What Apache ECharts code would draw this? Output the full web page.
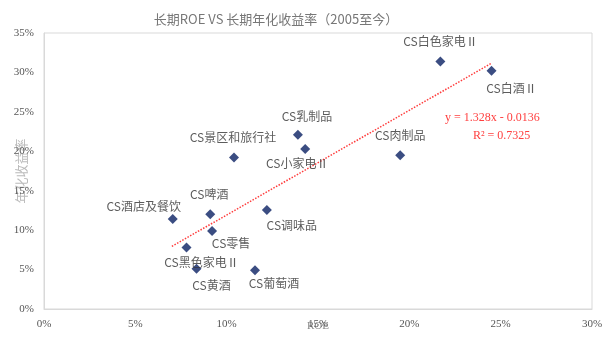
<!DOCTYPE html>
<html>
<head>
<meta charset="utf-8">
<script src="https://cdn.jsdelivr.net/npm/echarts@6/dist/echarts.min.js"></script>
<style>html,body{margin:0;padding:0;background:#fff;}#c{width:603px;height:339px;}</style>
</head>
<body>
<div id="c"></div>
<script>
// ---- data (percent) ----
var names = ['CS白色家电Ⅱ','CS白酒Ⅱ','CS肉制品','CS乳制品','CS小家电Ⅱ','CS景区和旅行社','CS啤酒','CS酒店及餐饮','CS调味品','CS零售','CS黑色家电Ⅱ','CS黄酒','CS葡萄酒'];
var roe    = [21.7, 24.5, 19.5, 13.9, 14.3, 10.4, 9.1, 7.05, 12.2, 9.2, 7.8, 8.35, 11.55];
var annRet = [31.4, 30.2, 19.5, 22.1, 20.3, 19.2, 12.0, 11.4, 12.55, 9.9, 7.8, 5.1, 4.9];
var trendX = [7.0, 24.5];
var trendY = [7.94, 31.17];
var xTicks = [0, 5, 10, 15, 20, 25, 30];
var yTicks = [0, 5, 10, 15, 20, 25, 30, 35];
var titleText = '长期ROE VS 长期年化收益率（2005至今）';
var eqText = ['y = 1.328x - 0.0136', 'R² = 0.7325'];

// ---- label layout (styling only) ----
var labelLayout = {
  'CS白色家电Ⅱ': {position:'top', offset:[0,-4]},
  'CS白酒Ⅱ': {position:'bottom', offset:[20,2]},
  'CS肉制品': {position:'top', offset:[0,-4]},
  'CS乳制品': {position:'top', offset:[9,-2]},
  'CS小家电Ⅱ': {position:'bottom', offset:[-8,-1]},
  'CS景区和旅行社': {position:'top', offset:[-1,-4]},
  'CS啤酒': {position:'top', offset:[-1,-4]},
  'CS酒店及餐饮': {position:'top', offset:[-29,3]},
  'CS调味品': {position:'bottom', offset:[25,-1]},
  'CS零售': {position:'bottom', offset:[19,-3]},
  'CS黑色家电Ⅱ': {position:'bottom', offset:[15,-1]},
  'CS黄酒': {position:'bottom', offset:[15,1]},
  'CS葡萄酒': {position:'bottom', offset:[19,-3]}
};

var pts = names.map(function(n,i){
  var l = labelLayout[n];
  return {name:n, value:[roe[i], annRet[i]], label:{position:l.position, offset:l.offset}};
});

var chart = echarts.init(document.getElementById('c'), null, {renderer:'canvas'});
var axisLabelStyle = {color:'#555', fontFamily:'Liberation Serif', fontSize:11};
chart.setOption({
  animation:false,
  backgroundColor:'#fff',
  title:{text:titleText, left:271, top:8, textAlign:'center',
    textStyle:{color:'#777', fontSize:13, fontWeight:'normal', fontFamily:'Noto Sans CJK SC'}},
  grid:{left:44, right:11, top:33, bottom:30, containLabel:false, outerBoundsMode:'none',
    show:true, borderColor:'#d9d9d9', borderWidth:1},
  xAxis:{type:'value', min:xTicks[0], max:xTicks[xTicks.length-1], interval:5,
    name:'ROE', nameLocation:'middle', nameGap:12, nameMoveOverlap:false,
    nameTextStyle:{color:'#888', fontSize:11, fontFamily:'Liberation Serif'},
    axisLine:{show:true, lineStyle:{color:'#d9d9d9'}}, axisTick:{show:false}, splitLine:{show:false},
    axisLabel:Object.assign({formatter:'{value}%', margin:10}, axisLabelStyle)},
  yAxis:{type:'value', min:yTicks[0], max:yTicks[yTicks.length-1], interval:5,
    name:'年化收益率', nameLocation:'middle', nameGap:16, nameMoveOverlap:false,
    nameTextStyle:{color:'#bbb', fontSize:13, fontFamily:'Noto Sans CJK SC'},
    axisLine:{show:true, lineStyle:{color:'#d9d9d9'}}, axisTick:{show:false}, splitLine:{show:false},
    axisLabel:Object.assign({formatter:'{value}%', margin:10}, axisLabelStyle)},
  series:[
    {type:'line', data:[[trendX[0],trendY[0]],[trendX[1],trendY[1]]], symbol:'none', silent:true,
     lineStyle:{color:'#ff3b3b', width:1.5, type:'dotted'}, z:1},
    {type:'scatter', data:pts, symbol:'diamond', symbolSize:10,
     itemStyle:{color:'#0a2163'},
     label:{show:true, formatter:'{b}', color:'#333', fontSize:12, fontFamily:'Noto Sans CJK SC'}, z:3}
  ],
  graphic:[
    {type:'text', left:445, top:112, style:{text:eqText[0], fill:'#ff4040', font:'12px "Liberation Serif"'}},
    {type:'text', left:473, top:130, style:{text:eqText[1], fill:'#ff4040', font:'12px "Liberation Serif"'}}
  ]
});
</script>
</body>
</html>
